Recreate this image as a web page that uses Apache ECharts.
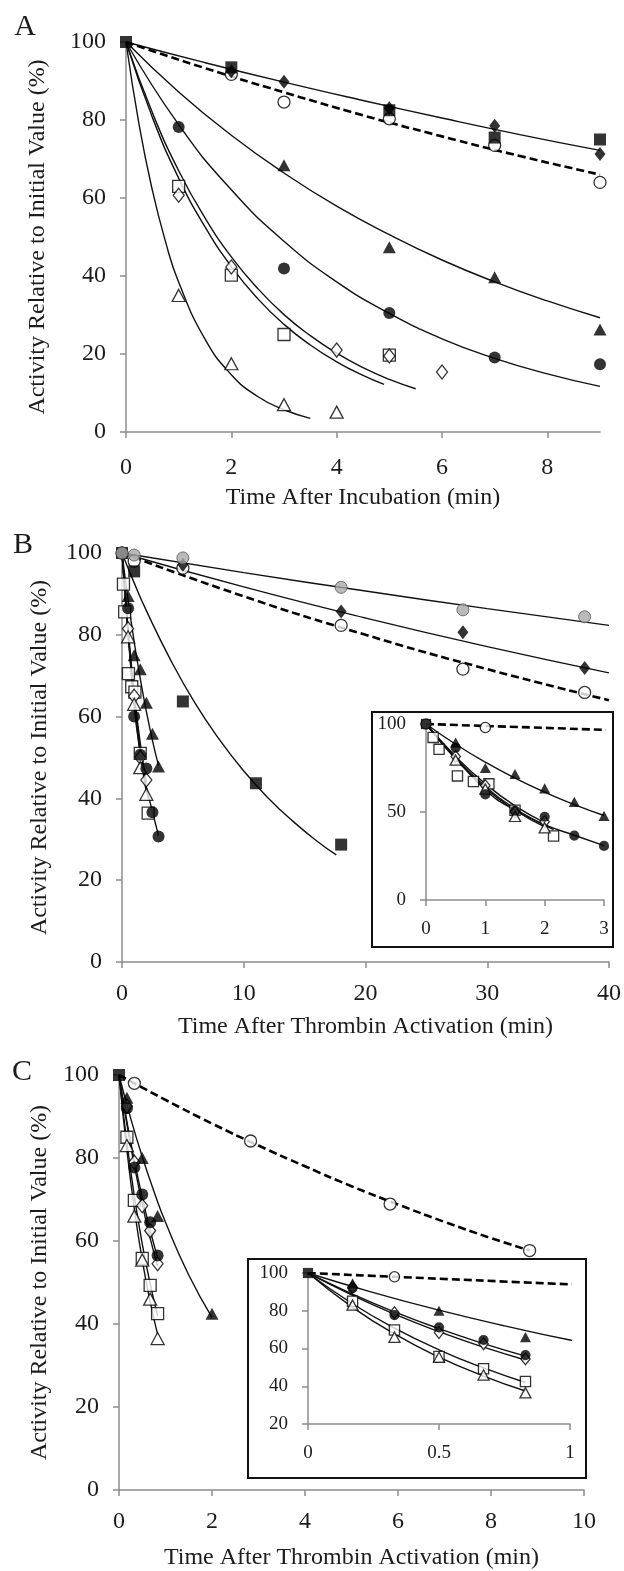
<!DOCTYPE html>
<html>
<head>
<meta charset="utf-8">
<script src="https://cdn.jsdelivr.net/npm/echarts@6/dist/echarts.min.js"></script>
<style>
  html, body { margin: 0; padding: 0; background: #fff; }
  #chart { width: 624px; height: 1571px; }
</style>
</head>
<body>
<div id="chart"></div>
<script>
// ---------- panel A: time after incubation (min), activity (%)
const aSqX = [0, 2, 5, 7, 9];
const aSqY = [100, 93.5, 82.5, 75.5, 75];
const aDiX = [2, 3, 5, 7, 9];
const aDiY = [92.5, 89.8, 83, 78.5, 71.3];
const aOcX = [2, 3, 5, 7, 9];
const aOcY = [91.7, 84.6, 80.3, 73.5, 64];
const aTrX = [3, 5, 7, 9];
const aTrY = [68.4, 47.4, 39.7, 26.3];
const aCiX = [1, 3, 5, 7, 9];
const aCiY = [78.2, 41.9, 30.5, 19.1, 17.4];
const aOsX = [1, 2, 3, 5];
const aOsY = [63, 40.2, 25, 19.7];
const aOdX = [1, 2, 4, 5, 6];
const aOdY = [60.7, 42.3, 21, 19.5, 15.4];
const aOtX = [1, 2, 3, 4];
const aOtY = [35, 17.5, 7, 5.1];

// fitted curves
const aSlowFitX = [0, 1.5, 3, 4.5, 6, 7.5, 9];
const aSolidFitY = [100, 94.7, 89.7, 85, 80.5, 76.2, 72.2];
const aDashFitY = [100, 93.3, 87.1, 81.2, 75.8, 70.7, 66];
const aFitX = [0, 1, 2, 3, 4, 5, 6, 7, 8, 9];
const aTrFitY = [100, 87.2, 76.1, 66.4, 57.9, 50.6, 44.1, 38.5, 33.6, 29.3];
const aCiFitY = [100, 78.8, 62.1, 48.9, 38.5, 30.4, 23.9, 18.9, 14.9, 11.7];
const aOsFitX = [0, 0.5, 1, 1.5, 2, 2.5, 3, 3.5, 4, 4.5, 4.9];
const aOsFitY = [100, 80.7, 65.1, 52.6, 42.4, 34.2, 27.6, 22.3, 18, 14.5, 12.2];
const aOdFitX = [0, 0.5, 1, 1.5, 2, 2.5, 3, 3.5, 4, 4.5, 5, 5.5];
const aOdFitY = [100, 81.9, 67, 54.9, 44.9, 36.8, 30.1, 24.7, 20.2, 16.5, 13.5, 11.1];
const aOtFitX = [0, 0.25, 0.5, 0.75, 1, 1.5, 2, 2.5, 3, 3.5];
const aOtFitY = [100, 78.7, 62, 48.8, 38.4, 23.8, 14.7, 9.1, 5.7, 3.5];

// ---------- panel B: time after thrombin activation (min)
const bGcX = [0, 1, 5, 18, 28, 38];
const bGcY = [100, 99.5, 98.8, 91.6, 86.1, 84.4];
const bDiX = [0, 5, 18, 28, 38];
const bDiY = [100, 97.1, 85.7, 80.6, 71.9];
const bOcX = [0, 1, 5, 18, 28, 38];
const bOcY = [100, 98, 96.3, 82.3, 71.6, 65.9];
const bSqX = [0, 1, 5, 11, 18];
const bSqY = [100, 95.5, 63.7, 43.7, 28.7];
const bFtX = [0.5, 1, 1.5, 2, 2.5, 3];
const bFtY = [89.5, 75, 71.6, 63.4, 55.8, 47.8];
const bFcX = [0.5, 1, 1.5, 2, 2.5, 3];
const bFcY = [86.5, 60, 50.7, 47.3, 36.6, 30.7];
const bOsX = [0.12, 0.22, 0.53, 0.8, 1.06, 1.5, 2.15];
const bOsY = [92.4, 85.6, 70.5, 67.3, 66, 51, 36.4];
const bOdX = [0.5, 1, 1.5, 2];
const bOdY = [81.5, 65, 50, 44.5];
const bOtX = [0.5, 1, 1.5, 2];
const bOtY = [79.5, 63, 47.5, 41];

const bSlowFitX = [0, 10, 20, 30, 40];
const bGcFitY = [100, 95.2, 90.7, 86.4, 82.3];
const bDiFitY = [100, 91.7, 84.1, 77.1, 70.7];
const bOcFitY = [100, 89.4, 80, 71.6, 64];
const bSqFitX = [0, 1, 2, 4, 6, 8, 10, 12, 14, 16, 17.6];
const bSqFitY = [100, 92.7, 85.9, 73.8, 63.3, 54.4, 46.7, 40.1, 34.5, 29.6, 26.2];
const bFastFitX = [0, 0.5, 1, 1.5, 2, 2.5, 3];
const bFtFitY = [100, 88.5, 78.3, 69.3, 61.3, 54.2, 48];
const bFcFitY = [100, 81, 62.5, 51, 42.8, 36.8, 30.9];
const bOsFitX = [0, 0.5, 1, 1.5, 2, 2.15];
const bOsFitY = [100, 80.5, 64.5, 52, 42.5, 40];
const bOdFitX = [0, 0.5, 1, 1.5, 2];
const bOdFitY = [100, 81.5, 66, 53.5, 44];
const bOtFitY = [100, 80, 63.5, 51, 41.5];

// ---------- panel C: time after thrombin activation (min)
const cSqX = [0];
const cSqY = [100];
const cOcX = [0.33, 2.83, 5.83, 8.83];
const cOcY = [98, 84.1, 68.9, 57.7];
const cFtX = [0.17, 0.5, 0.83, 2];
const cFtY = [94.5, 80, 66, 42.5];
const cFastX = [0.17, 0.33, 0.5, 0.67, 0.83];
const cFcY = [92, 77.7, 71.2, 64.5, 56.5];
const cOdY = [92.5, 79, 68.5, 62.5, 54.5];
const cOsY = [85, 69.8, 55.8, 49.3, 42.5];
const cOtY = [83, 66, 55.4, 46, 36.5];

const cOcFitX = [0, 1, 2, 3, 4, 5, 6, 7, 8, 8.83];
const cOcFitY = [100, 94, 88.3, 83, 78, 73.2, 68.8, 64.6, 60.7, 57.7];
const cFtFitX = [0, 0.25, 0.5, 0.75, 1, 1.5, 2];
const cFtFitY = [100, 89.6, 80.3, 72, 64.5, 51.8, 41.6];
const cFastFitX = [0, 0.17, 0.33, 0.5, 0.67, 0.83];
const cFcFitY = [100, 88.8, 79.4, 70.5, 62.6, 56];
const cOdFitY = [100, 88.1, 78.2, 68.9, 60.7, 53.9];
const cOsFitY = [100, 83.7, 70.8, 59.3, 49.7, 42];
const cOtFitY = [100, 81.8, 67.7, 55.4, 45.4, 37.5];

const yTitle = 'Activity Relative to Initial Value (%)';
const xTitleA = 'Time After Incubation (min)';
const xTitleBC = 'Time After Thrombin Activation (min)';

// ---------- styles
const FONT = '"Liberation Serif", "Times New Roman", serif';
const INK = '#1c1c1c';
const AXIS = '#8c8c8c';
const filled = { color: '#000' };
const open = { color: '#fff', borderColor: '#000', borderWidth: 1.3 };
const grey = { color: '#a9a9a9', borderColor: '#555', borderWidth: 1 };
const SYM = {
  sq: ['rect', 12], di: ['diamond', [11, 14]], ci: ['circle', 12], tr: ['triangle', [13, 12]]
};

const pairs = (xs, ys) => xs.map((x, i) => [x, ys[i]]);

function dots(g, xs, ys, kind, style, scale, z) {
  const [symbol, size] = SYM[kind];
  const s = Array.isArray(size) ? size.map(v => v * scale) : size * scale;
  return {
    type: 'scatter', xAxisIndex: g, yAxisIndex: g, symbol, symbolSize: s,
    itemStyle: style, z: z || 5, silent: true, data: pairs(xs, ys)
  };
}

function fit(g, xs, ys, dashed) {
  return {
    type: 'line', xAxisIndex: g, yAxisIndex: g, smooth: true, symbol: 'none',
    silent: true, z: 3, data: pairs(xs, ys),
    lineStyle: dashed
      ? { color: '#000', width: 2.6, type: [8, 4] }
      : { color: '#111', width: 1.4 }
  };
}

function axis(g, min, max, interval, fontSize, extra) {
  return Object.assign({
    type: 'value', gridIndex: g, min, max, interval,
    splitLine: { show: false },
    axisLine: { show: true, onZero: false, lineStyle: { color: AXIS, width: 1.5 } },
    axisTick: { show: true, length: 6, lineStyle: { color: AXIS, width: 1.5 } },
    axisLabel: { color: INK, fontFamily: FONT, fontSize, margin: 20 },
    nameLocation: 'middle',
    nameTextStyle: { color: INK, fontFamily: FONT, fontSize: 24 }
  }, extra);
}

const M = 1;    // main marker scale
const I = 0.85; // inset marker scale

const series = [
  // A
  fit(0, aSlowFitX, aSolidFitY), fit(0, aSlowFitX, aDashFitY, true),
  fit(0, aFitX, aTrFitY), fit(0, aFitX, aCiFitY),
  fit(0, aOsFitX, aOsFitY), fit(0, aOdFitX, aOdFitY), fit(0, aOtFitX, aOtFitY),
  dots(0, aOcX, aOcY, 'ci', open, M), dots(0, aOsX, aOsY, 'sq', open, M),
  dots(0, aOdX, aOdY, 'di', open, M), dots(0, aOtX, aOtY, 'tr', open, M),
  dots(0, aDiX, aDiY, 'di', filled, M, 6), dots(0, aTrX, aTrY, 'tr', filled, M, 6),
  dots(0, aCiX, aCiY, 'ci', filled, M, 6), dots(0, aSqX, aSqY, 'sq', filled, M, 7),
  // B
  fit(1, bSlowFitX, bGcFitY), fit(1, bSlowFitX, bDiFitY), fit(1, bSlowFitX, bOcFitY, true),
  fit(1, bSqFitX, bSqFitY), fit(1, bFastFitX, bFtFitY), fit(1, bFastFitX, bFcFitY),
  fit(1, bOsFitX, bOsFitY), fit(1, bOdFitX, bOdFitY), fit(1, bOdFitX, bOtFitY),
  dots(1, bOcX, bOcY, 'ci', open, M), dots(1, bOsX, bOsY, 'sq', open, M),
  dots(1, bOdX, bOdY, 'di', open, M), dots(1, bOtX, bOtY, 'tr', open, M),
  dots(1, bDiX, bDiY, 'di', filled, M, 6), dots(1, bFtX, bFtY, 'tr', filled, M, 6),
  dots(1, bFcX, bFcY, 'ci', filled, M, 6), dots(1, bSqX, bSqY, 'sq', filled, M, 7),
  dots(1, bGcX, bGcY, 'ci', grey, M, 8),
  // B inset
  fit(2, bSlowFitX, bOcFitY, true), fit(2, bFastFitX, bFtFitY), fit(2, bFastFitX, bFcFitY),
  fit(2, bOsFitX, bOsFitY), fit(2, bOdFitX, bOdFitY), fit(2, bOdFitX, bOtFitY),
  dots(2, bOcX, bOcY, 'ci', open, I), dots(2, bOsX, bOsY, 'sq', open, I),
  dots(2, bOdX, bOdY, 'di', open, I), dots(2, bOtX, bOtY, 'tr', open, I),
  dots(2, bFtX, bFtY, 'tr', filled, I, 6), dots(2, bFcX, bFcY, 'ci', filled, I, 6),
  dots(2, bSqX.slice(0, 1), bSqY.slice(0, 1), 'sq', filled, I, 7),
  // C
  fit(3, cOcFitX, cOcFitY, true), fit(3, cFtFitX, cFtFitY),
  fit(3, cFastFitX, cFcFitY), fit(3, cFastFitX, cOdFitY),
  fit(3, cFastFitX, cOsFitY), fit(3, cFastFitX, cOtFitY),
  dots(3, cOcX, cOcY, 'ci', open, M), dots(3, cFastX, cOsY, 'sq', open, M),
  dots(3, cFastX, cOdY, 'di', open, M), dots(3, cFastX, cOtY, 'tr', open, M),
  dots(3, cFtX, cFtY, 'tr', filled, M, 6), dots(3, cFastX, cFcY, 'ci', filled, M, 6),
  dots(3, cSqX, cSqY, 'sq', filled, M, 7),
  // C inset
  fit(4, cOcFitX, cOcFitY, true), fit(4, cFtFitX, cFtFitY),
  fit(4, cFastFitX, cFcFitY), fit(4, cFastFitX, cOdFitY),
  fit(4, cFastFitX, cOsFitY), fit(4, cFastFitX, cOtFitY),
  dots(4, cOcX, cOcY, 'ci', open, I), dots(4, cFastX, cOsY, 'sq', open, I),
  dots(4, cFastX, cOdY, 'di', open, I), dots(4, cFastX, cOtY, 'tr', open, I),
  dots(4, cFtX, cFtY, 'tr', filled, I, 6), dots(4, cFastX, cFcY, 'ci', filled, I, 6),
  dots(4, cSqX, cSqY, 'sq', filled, I, 7)
];

const letter = (text, x, y) => ({
  type: 'text', x, y,
  style: { text, fill: INK, font: '30px ' + FONT, textAlign: 'center', textVerticalAlign: 'middle' }
});
const frame = (x, y, width, height) => ({
  type: 'rect', shape: { x, y, width, height }, z: 10,
  style: { fill: 'transparent', stroke: '#111', lineWidth: 2 }
});

const chart = echarts.init(document.getElementById('chart'));
chart.setOption({
  animation: false,
  backgroundColor: '#fff',
  grid: [
    { left: 126, top: 42, width: 474, height: 390 },
    { left: 122, top: 553, width: 492, height: 409 },
    { left: 426, top: 724, width: 178, height: 176 },
    { left: 119, top: 1075, width: 465, height: 417 },
    { left: 308, top: 1273, width: 262, height: 151 }
  ],
  xAxis: [
    axis(0, 0, 9, 2, 24, {
      name: xTitleA, nameGap: 54,
      axisLabel: { color: INK, fontFamily: FONT, fontSize: 24, margin: 24, customValues: [0, 2, 4, 6, 8] },
      axisTick: { show: true, length: 6, lineStyle: { color: AXIS, width: 1.5 }, customValues: [0, 2, 4, 6, 8] }
    }),
    axis(1, 0, 40, 10, 24, { name: xTitleBC, nameGap: 53 }),
    axis(2, 0, 3, 1, 19),
    axis(3, 0, 10, 2, 24, { name: xTitleBC, nameGap: 56 }),
    axis(4, 0, 1, 0.5, 19)
  ],
  yAxis: [
    axis(0, 0, 100, 20, 24, { name: yTitle, nameGap: 76 }),
    axis(1, 0, 100, 20, 24, { name: yTitle, nameGap: 70 }),
    axis(2, 0, 100, 50, 19),
    axis(3, 0, 100, 20, 24, { name: yTitle, nameGap: 60 }),
    axis(4, 20, 100, 20, 19)
  ],
  graphic: [
    letter('A', 25, 27), letter('B', 23, 545), letter('C', 22, 1072),
    frame(372, 712, 241, 235), frame(248, 1259, 338, 219)
  ],
  series
});
window.addEventListener('resize', () => chart.resize());
</script>
</body>
</html>
